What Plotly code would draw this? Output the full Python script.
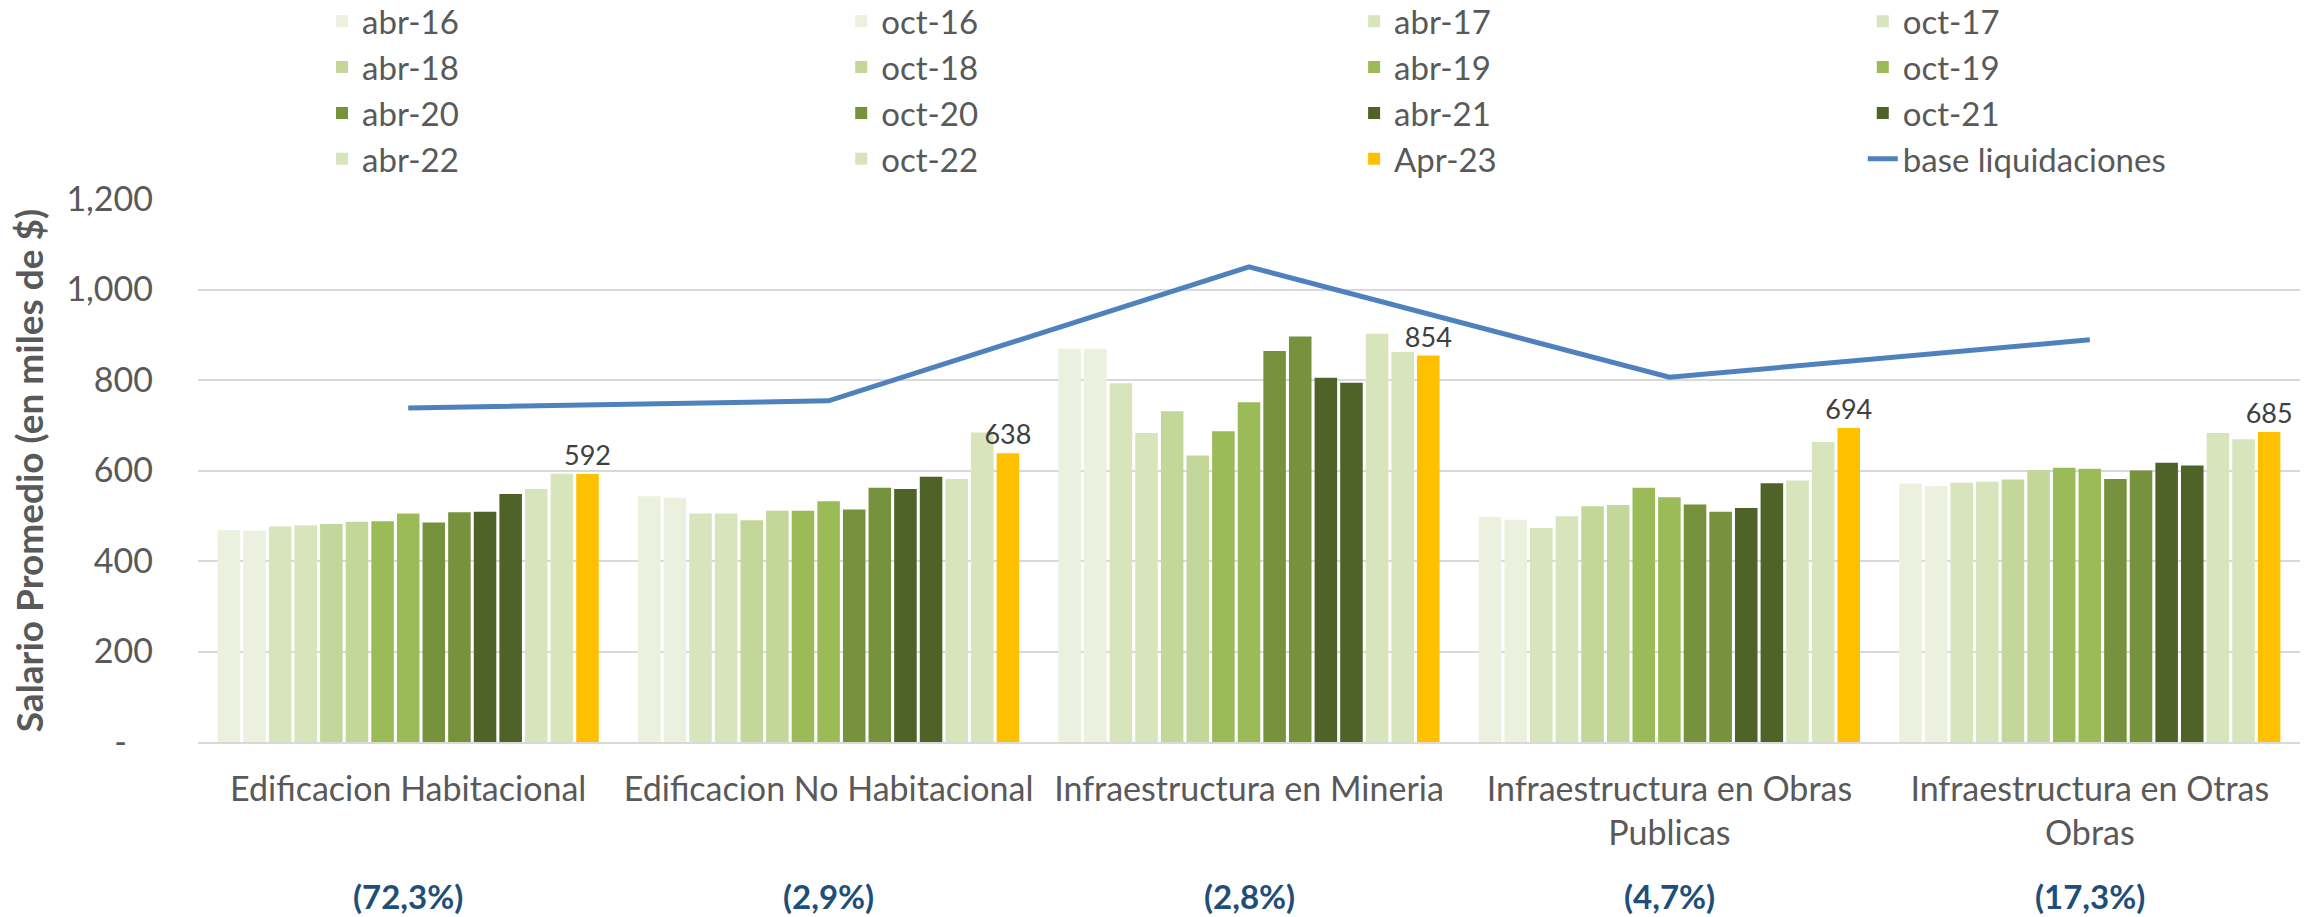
import plotly.graph_objects as go

categories = ["Edificacion Habitacional", "Edificacion No Habitacional", "Infraestructura en Mineria",
              "Infraestructura en Obras Publicas", "Infraestructura en Otras Obras"]
category_ticktext = ["Edificacion Habitacional", "Edificacion No Habitacional", "Infraestructura en Mineria",
                     "Infraestructura en Obras<br>Publicas", "Infraestructura en Otras<br>Obras"]
shares = ["(72,3%)", "(2,9%)", "(2,8%)", "(4,7%)", "(17,3%)"]

periods = ["abr-16", "oct-16", "abr-17", "oct-17", "abr-18", "oct-18", "abr-19", "oct-19",
           "abr-20", "oct-20", "abr-21", "oct-21", "abr-22", "oct-22", "Apr-23"]

abr_16 = [468, 543, 869, 497, 571]
oct_16 = [467, 540, 869, 491, 566]
abr_17 = [476, 505, 793, 473, 573]
oct_17 = [479, 505, 683, 499, 575]
abr_18 = [482, 490, 731, 521, 580]
oct_18 = [487, 511, 633, 524, 601]
abr_19 = [488, 511, 687, 562, 606]
oct_19 = [505, 532, 751, 541, 604]
abr_20 = [485, 514, 864, 525, 581]
oct_20 = [508, 562, 896, 509, 600]
abr_21 = [509, 559, 805, 517, 617]
oct_21 = [548, 586, 794, 572, 611]
abr_22 = [559, 581, 902, 578, 683]
oct_22 = [593, 684, 862, 663, 669]
apr_23 = [592, 638, 854, 694, 685]

base_liquidaciones = [738, 754, 1050, 806, 889]

series = [abr_16, oct_16, abr_17, oct_17, abr_18, oct_18, abr_19, oct_19,
          abr_20, oct_20, abr_21, oct_21, abr_22, oct_22, apr_23]
colors = ["#EBF1DE", "#EBF1DE", "#D8E4BC", "#D8E4BC", "#C4D79B", "#C4D79B", "#9BBB59", "#9BBB59",
          "#76923C", "#76923C", "#4F6228", "#4F6228", "#D8E4BC", "#D8E4BC", "#FFC000"]

FONT = "Lato"
GREY = "#595959"

# legend laid out in 4 columns (row-wise order as in the reference)
legend_ids = ["legend", "legend2", "legend3", "legend4"]

fig = go.Figure()
for i, (name, vals, col) in enumerate(zip(periods, series, colors)):
    is_last = name == "Apr-23"
    fig.add_trace(go.Bar(
        name=name, x=categories, y=vals, marker_color=col, marker_line_width=0,
        text=[str(v) for v in vals] if is_last else None,
        textposition="outside" if is_last else None,
        textfont=dict(family=FONT, size=27, color="#404040"),
        constraintext="none", cliponaxis=False,
        legend=legend_ids[i % 4],
    ))

fig.add_trace(go.Scatter(
    name="base liquidaciones", x=categories, y=base_liquidaciones, mode="lines",
    line=dict(color="#4F81BD", width=5),
    legend=legend_ids[15 % 4],
))

for cat, s in zip(categories, shares):
    fig.add_annotation(x=cat, y=-0.283, xref="x", yref="paper", text=s, showarrow=False,
                       font=dict(family=FONT, size=33, color="#1F4E79", weight="bold"),
                       yanchor="middle")

legend_style = dict(orientation="v", xanchor="left", y=1.379, yanchor="top", itemwidth=30,
                    font=dict(family=FONT, size=33, color=GREY), traceorder="normal",
                    bgcolor="rgba(0,0,0,0)")
legend_x = [0.0590, 0.3060, 0.5500, 0.7920]

fig.update_layout(
    width=2318, height=917,
    margin=dict(l=198, r=18, t=199, b=175, autoexpand=False),
    paper_bgcolor="white", plot_bgcolor="white",
    barmode="group", bargap=0.086, bargroupgap=0.12,
    font=dict(family=FONT, color=GREY),
    legend=dict(x=legend_x[0], **legend_style),
    legend2=dict(x=legend_x[1], **legend_style),
    legend3=dict(x=legend_x[2], **legend_style),
    legend4=dict(x=legend_x[3], **legend_style),
    xaxis=dict(tickmode="array", tickvals=categories, ticktext=category_ticktext,
               tickfont=dict(family=FONT, size=34, color=GREY),
               showline=True, linecolor="#D9D9D9", linewidth=2, ticks="",
               ticklabelstandoff=16),
    yaxis=dict(range=[0, 1200], tickvals=[0, 200, 400, 600, 800, 1000, 1200],
               ticktext=["-\u00a0\u00a0\u00a0", "200", "400", "600", "800", "1,000", "1,200"],
               tickfont=dict(family=FONT, size=34, color=GREY),
               showgrid=True, gridcolor="#D9D9D9", gridwidth=2, zeroline=False,
               ticklabelstandoff=44,
               title=dict(text="Salario Promedio (en miles de $)", standoff=11,
                          font=dict(family=FONT, size=37, color=GREY, weight="bold"))),
)

fig.write_html("out.html", post_script="document.body.style.margin='0';",
               config={"displayModeBar": False})
